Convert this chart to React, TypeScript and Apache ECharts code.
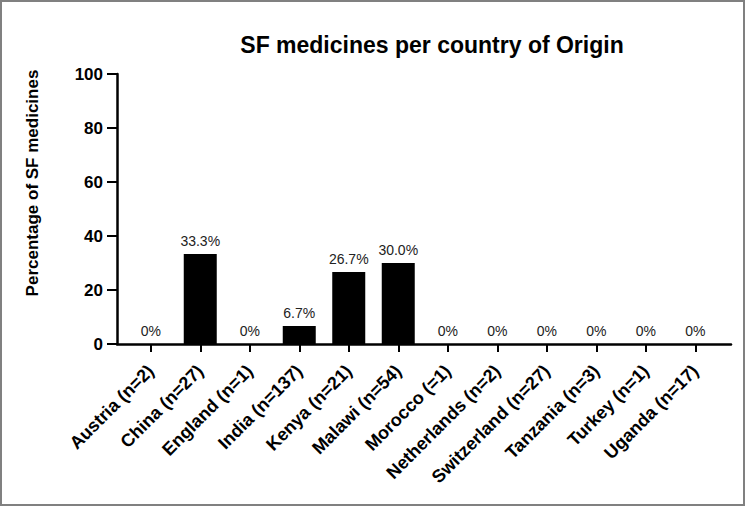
import React, { useEffect, useRef } from "react";
import * as echarts from "echarts";

const titleText = "SF medicines per country of Origin";
const yAxisName = "Percentage of SF medicines";
const categories = [
  "Austria (n=2)",
  "China (n=27)",
  "England (n=1)",
  "India (n=137)",
  "Kenya (n=21)",
  "Malawi (n=54)",
  "Morocco (=1)",
  "Netherlands (n=2)",
  "Switzerland (n=27)",
  "Tanzania (n=3)",
  "Turkey (n=1)",
  "Uganda (n=17)",
];
const sfPercent = [0, 33.3, 0, 6.7, 26.7, 30.0, 0, 0, 0, 0, 0, 0];
const yTicks = [0, 20, 40, 60, 80, 100];

const FONT = "'Liberation Sans', Arial, sans-serif";

export default function App() {
  const ref = useRef<HTMLDivElement>(null);
  useEffect(() => {
    document.body.style.margin = "0";
    if (!ref.current) return;
    const chart = echarts.init(ref.current, null, { renderer: "svg" });
    const top = 74;
    const bottom = 164;
    const yMin = yTicks[0];
    const yMax = yTicks[yTicks.length - 1];
    chart.setOption({
      animation: false,
      backgroundColor: "#ffffff",
      title: {
        text: titleText,
        left: 427,
        top: 28,
        textAlign: "center",
        textStyle: { fontFamily: FONT, fontSize: 23, fontWeight: "bold", color: "#000" },
      },
      grid: [
        { left: 117, right: 15, top, bottom, containLabel: false },
        { left: 126, right: 26, top, bottom, containLabel: false },
      ],
      xAxis: [
        {
          gridIndex: 0,
          type: "value",
          min: 0,
          max: 1,
          axisLine: { show: true, onZero: false, lineStyle: { color: "#000", width: 2.5 } },
          axisTick: { show: false },
          axisLabel: { show: false },
          splitLine: { show: false },
        },
        {
          gridIndex: 1,
          type: "category",
          data: categories,
          boundaryGap: true,
          axisLine: { show: false },
          axisTick: { show: true, alignWithLabel: true, interval: 0, length: 8, lineStyle: { color: "#000", width: 2 } },
          axisLabel: {
            interval: 0,
            rotate: 45,
            margin: 24,
            fontFamily: FONT,
            fontSize: 18,
            fontWeight: "bold",
            color: "#000",
          },
          splitLine: { show: false },
        },
      ],
      yAxis: [
        {
          gridIndex: 0,
          type: "value",
          min: yMin,
          max: yMax,
          interval: 20,
          axisLine: { show: true, onZero: false, lineStyle: { color: "#000", width: 2.5 } },
          axisTick: { show: true, length: 10, lineStyle: { color: "#000", width: 2 } },
          axisLabel: { fontFamily: FONT, fontSize: 17, fontWeight: "bold", color: "#000", margin: 14 },
          splitLine: { show: false },
        },
        {
          gridIndex: 1,
          type: "value",
          min: yMin,
          max: yMax,
          interval: 20,
          show: false,
          splitLine: { show: false },
        },
      ],
      graphic: [
        {
          type: "text",
          x: 32,
          y: 183,
          rotation: Math.PI / 2,
          style: {
            text: yAxisName,
            fontFamily: FONT,
            fontSize: 17,
            fontWeight: "bold",
            fill: "#000",
            textAlign: "center",
            textVerticalAlign: "middle",
          },
        },
        {
          type: "rect",
          shape: { x: 1, y: 1, width: 743, height: 504 },
          style: { fill: "none", stroke: "#808080", lineWidth: 2 },
          z: 10,
        },
      ],
      series: [
        {
          type: "bar",
          xAxisIndex: 1,
          yAxisIndex: 1,
          data: sfPercent,
          barWidth: 33,
          itemStyle: { color: "#000" },
          label: {
            show: true,
            position: "top",
            distance: 6,
            fontFamily: FONT,
            fontSize: 14,
            color: "#222",
            formatter: (p: any) => (p.value === 0 ? "0%" : Number(p.value).toFixed(1) + "%"),
          },
        },
      ],
    });
    return () => chart.dispose();
  }, []);
  return <div ref={ref} style={{ width: 746, height: 508 }} />;
}
